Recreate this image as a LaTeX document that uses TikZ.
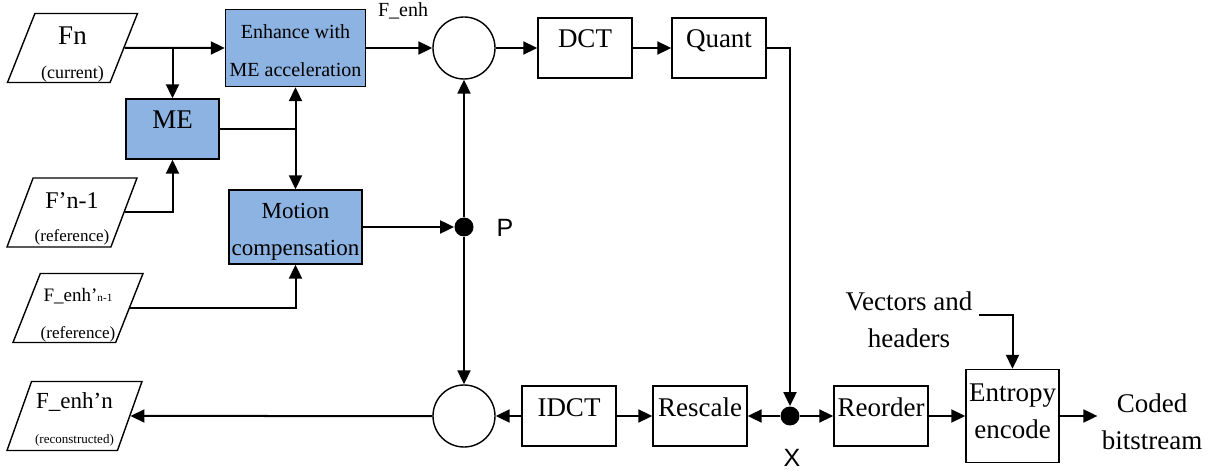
\documentclass[tikz,border=0pt]{standalone}
\usepackage{fontspec}
\setmainfont{Liberation Serif}
\newfontfamily\labelfont{Liberation Sans}
\usetikzlibrary{shapes.geometric,arrows.meta,positioning}
\definecolor{MEBlue}{RGB}{141,179,226}
\newcommand{\fsz}[2]{\fontsize{#1}{#2}\selectfont}

\begin{document}
\begin{tikzpicture}[x=0.5pt,y=-0.5pt,
  conn/.style={line width=1pt,-{Triangle[length=7pt,width=6.5pt]}},
  wire/.style={line width=1pt},
  blk/.style={draw,line width=0.7pt,inner sep=1pt,minimum width=47pt,minimum height=30pt,font=\fsz{13.5}{18.5}},
  oneline/.style={text height=6pt,text depth=6pt},
  proc/.style={blk,fill=MEBlue},
  picin/.style={draw,line width=0.7pt,trapezium,trapezium left angle=68,trapezium right angle=112,
                trapezium stretches body,minimum width=65pt,minimum height=34.5pt,inner sep=0pt,align=center},
  sum/.style={draw,circle,line width=0.7pt,minimum size=31pt,inner sep=0pt},
  joint/.style={circle,fill,minimum size=9.5pt,inner sep=0pt}]
  \useasboundingbox (0,0) rectangle (1217,476);
  % input frames
  \node[picin,font=\fsz{13.5}{17}] (fn) at (72.5,48) {\rule{0pt}{15pt}Fn\\{\fsz{9}{10}(current)}};
  \node[picin,font=\fsz{12}{16.5}] (fref) at (72,212.5) {\rule{0pt}{14pt}F’n-1\\{\fsz{8.5}{10}(reference)}};
  \node[picin,font=\fsz{9.5}{18.5}] (feref) at (78,308) {\rule{0pt}{13.5pt}F\_enh’{\fsz{5.6}{6}n-1}\\{\fsz{8.5}{10}(reference)}};
  \node[picin,font=\fsz{11.5}{17.5},minimum width=67.5pt] (frec) at (74.5,416) {\rule{0pt}{11.5pt}F\_enh’n\\{\fsz{6.5}{8}(reconstructed)}};
  % enhancement and motion blocks
  \node[proc,align=center,font=\fsz{10}{19},minimum width=70pt,minimum height=38.5pt] (enh) at (295.5,48) {\rule{0pt}{9.5pt}Enhance with\\ME acceleration};
  \node[proc,oneline,minimum width=46.5pt] (me) at (172.5,129) {ME};
  \node[proc,align=center,font=\fsz{11.5}{18.5},minimum width=66.5pt,minimum height=37pt] (mc) at (295.5,227) {\rule{0pt}{12.6pt}Motion\\compensation};
  \node[font=\fsz{10}{12}] (fenh) at (403,11) {F\_enh};
  % adders and tap points
  \node[sum] (s1) at (464,48) {};
  \node[sum] (s2) at (464,416) {};
  \node[joint] (p) at (464,227) {};
  \node[font=\labelfont\fsz{12.5}{14}] (plab) at (505,228) {P};
  \node[joint] (x) at (790,416) {};
  \node[font=\labelfont\fsz{12.5}{14}] (xlab) at (792,458) {X};
  % transform chain
  \node[blk,oneline] (dct) at (585,48) {DCT};
  \node[blk,oneline] (quant) at (719,48) {Quant};
  \node[blk,oneline] (idct) at (569,416) {IDCT};
  \node[blk,oneline] (rescale) at (700,416) {Rescale};
  \node[blk,oneline] (reorder) at (881,416) {Reorder};
  \node[blk,align=center,minimum width=46.5pt,minimum height=46.5pt] (entropy) at (1012.5,416) {Entropy\\encode\rule[-5pt]{0pt}{5pt}};
  \node[align=center,font=\fsz{13.5}{18.5}] (vec) at (909,320) {Vectors and\\headers};
  \node[align=center,font=\fsz{13.5}{18.5},inner sep=2pt] (coded) at (1152,422) {Coded\\bitstream};
  % connections
  \draw[conn] (fn.east) -- (enh.west);
  \draw[conn] (fn.east -| me.north) -- (me.north);
  \draw[conn] (fref.east) -| (me.south);
  \draw[wire] (me.east) -- (me.east -| enh.south);
  \draw[conn] (me.east -| enh.south) -- (enh.south);
  \draw[conn] (me.east -| mc.north) -- (mc.north);
  \draw[conn] (feref.east) -| (mc.south);
  \draw[conn] (mc.east) -- (p);
  \draw[conn] (p) -- (s1.south);
  \draw[conn] (p) -- (s2.north);
  \draw[conn] (enh.east) -- (s1.west);
  \draw[conn] (s1.east) -- (dct.west);
  \draw[conn] (dct.east) -- (quant.west);
  \draw[conn] (quant.east) -| (x.north);
  \draw[conn] (x.west) -- (rescale.east);
  \draw[conn] (idct.east) -- (rescale.west);
  \draw[conn] (idct.west) -- (s2.east);
  \draw[conn] (s2.west) -- (frec.east);
  \draw[conn] (x.east) -- (reorder.west);
  \draw[conn] (reorder.east) -- (entropy.west);
  \draw[conn] (entropy.east) -- (entropy.east -| coded.west);
  \draw[conn] ([yshift=2.75pt]vec.east) -| (entropy.north);
\end{tikzpicture}
\end{document}
